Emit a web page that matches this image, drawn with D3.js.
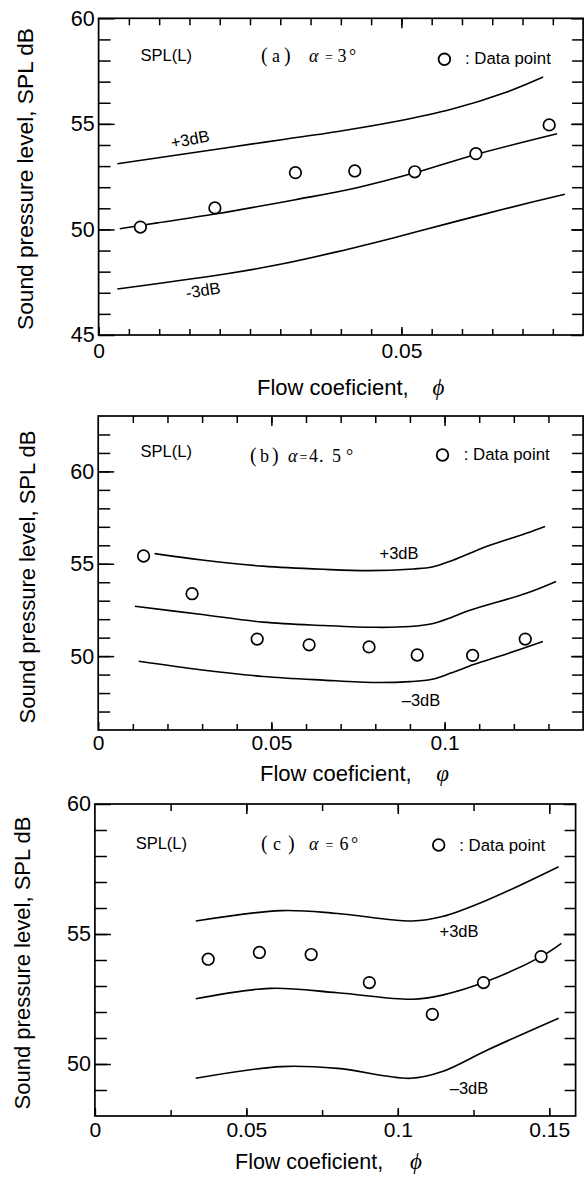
<!DOCTYPE html>
<html><head><meta charset="utf-8">
<script src="https://cdn.jsdelivr.net/npm/d3@7"></script>
<style>body{margin:0;background:#fff} svg{display:block}</style>
</head><body>
<svg id="chart" width="588" height="1178"></svg>
<script>
// ---------- Panel (a) alpha = 3 deg ----------
const aPointPhi = [0.0069, 0.0192, 0.0325, 0.0423, 0.0522, 0.0623, 0.0744];
const aPointSpl = [50.11, 51.02, 52.69, 52.77, 52.73, 53.59, 54.95];
const aMidPhi   = [0.0035, 0.0097, 0.0192, 0.0325, 0.0423, 0.0522, 0.0623, 0.0757];
const aMidSpl   = [50.03, 50.31, 50.73, 51.41, 51.95, 52.68, 53.55, 54.53];
const aUpPhi    = [0.0031, 0.0209, 0.0302, 0.0395, 0.0488, 0.0581, 0.0673, 0.0734];
const aUpSpl    = [53.11, 53.86, 54.25, 54.64, 55.10, 55.68, 56.50, 57.22];
const aLoPhi    = [0.0031, 0.0209, 0.0302, 0.0395, 0.0488, 0.0581, 0.0673, 0.0770];
const aLoSpl    = [47.18, 47.89, 48.36, 48.95, 49.61, 50.31, 50.99, 51.67];
const aXTicks   = [0, 0.05];
const aXLabels  = ["0", "0.05"];
const aYTicks   = [45, 50, 55, 60];

// ---------- Panel (b) alpha = 4.5 deg ----------
const bPointPhi = [0.0131, 0.0271, 0.0459, 0.0609, 0.0782, 0.0921, 0.1081, 0.1233];
const bPointSpl = [55.42, 53.38, 50.92, 50.61, 50.50, 50.06, 50.04, 50.92];
const bMidPhi   = [0.0106, 0.0300, 0.0476, 0.0650, 0.0801, 0.0900, 0.0964, 0.1018, 0.1073, 0.1236, 0.1322];
const bMidSpl   = [52.70, 52.25, 51.84, 51.66, 51.56, 51.60, 51.75, 52.08, 52.48, 53.40, 54.04];
const bUpPhi    = [0.0163, 0.0300, 0.0476, 0.0650, 0.0780, 0.0910, 0.0964, 0.1018, 0.1073, 0.1127, 0.1236, 0.1290];
const bUpSpl    = [55.55, 55.20, 54.87, 54.70, 54.63, 54.72, 54.82, 55.15, 55.57, 55.97, 56.65, 57.02];
const bLoPhi    = [0.0117, 0.0300, 0.0476, 0.0650, 0.0801, 0.0900, 0.0964, 0.1018, 0.1084, 0.1181, 0.1284];
const bLoSpl    = [49.72, 49.25, 48.90, 48.70, 48.57, 48.62, 48.75, 49.08, 49.54, 50.13, 50.79];
const bXTicks   = [0, 0.05, 0.1];
const bXLabels  = ["0", "0.05", "0.1"];
const bYTicks   = [50, 55, 60];

// ---------- Panel (c) alpha = 6 deg ----------
const cPointPhi = [0.0374, 0.0543, 0.0714, 0.0906, 0.1114, 0.1283, 0.1473];
const cPointSpl = [54.03, 54.29, 54.21, 53.13, 51.91, 53.13, 54.13];
const cMidPhi   = [0.0333, 0.0578, 0.0801, 0.1048, 0.1147, 0.1283, 0.1473, 0.1540];
const cMidSpl   = [52.51, 52.91, 52.74, 52.49, 52.65, 53.13, 54.13, 54.64];
const cUpPhi    = [0.0333, 0.0615, 0.0801, 0.1048, 0.1147, 0.1296, 0.1531];
const cUpSpl    = [55.50, 55.90, 55.79, 55.50, 55.67, 56.31, 57.59];
const cLoPhi    = [0.0333, 0.0615, 0.0801, 0.1042, 0.1147, 0.1296, 0.1531];
const cLoSpl    = [49.45, 49.90, 49.83, 49.45, 49.71, 50.54, 51.76];
const cXTicks   = [0, 0.05, 0.1, 0.15];
const cXLabels  = ["0", "0.05", "0.1", "0.15"];
const cYTicks   = [50, 55, 60];

const yAxisTitle = "Sound pressure level, SPL  dB";
const xAxisTitle = "Flow coeficient,";
const legendText = ": Data point";

const SANS = "'Liberation Sans', Arial, Helvetica, sans-serif";
const SERIF = "'Liberation Serif', 'DejaVu Serif', 'Times New Roman', serif";
const svg = d3.select("#chart");
svg.append("rect").attr("width", 588).attr("height", 1178).attr("fill", "#fff");

function zip(a, b) { return a.map((v, i) => [v, b[i]]); }

function styleAxis(sel, fs) {
  sel.select(".domain").remove();
  sel.selectAll(".tick line").attr("stroke", "#000").attr("stroke-width", 1.5);
  sel.selectAll(".tick text").attr("fill", "#000").attr("font-family", SANS).attr("font-size", fs);
  sel.attr("font-family", null).attr("font-size", null);
}

function drawPanel(p) {
  const x = d3.scaleLinear().domain(p.xDomain).range([p.left, p.right]);
  const y = d3.scaleLinear().domain(p.yDomain).range([p.bottom, p.top]);
  const g = svg.append("g");
  const xMinor = d3.range(p.xDomain[0] + p.xStep, p.xDomain[1] - 1e-9, p.xStep);
  const yMinor = d3.range(p.yDomain[0] + 1, p.yDomain[1] - 1e-9, 1);

  // minor ticks on all four sides (inward)
  g.append("g").attr("transform", `translate(0,${p.bottom})`)
    .call(d3.axisBottom(x).tickValues(xMinor).tickSize(-6).tickFormat("")).call(s => styleAxis(s, 0));
  g.append("g").attr("transform", `translate(0,${p.top})`)
    .call(d3.axisTop(x).tickValues(xMinor).tickSize(-7).tickFormat("")).call(s => styleAxis(s, 0));
  g.append("g").attr("transform", `translate(${p.left},0)`)
    .call(d3.axisLeft(y).tickValues(yMinor).tickSize(-12).tickFormat("")).call(s => styleAxis(s, 0));
  g.append("g").attr("transform", `translate(${p.right},0)`)
    .call(d3.axisRight(y).tickValues(yMinor).tickSize(-11).tickFormat("")).call(s => styleAxis(s, 0));

  // major ticks with labels
  g.append("g").attr("transform", `translate(0,${p.bottom})`)
    .call(d3.axisBottom(x).tickValues(p.xTicks).tickSize(-8).tickPadding(p.xPad)
      .tickFormat((d, i) => p.xLabels[i])).call(s => styleAxis(s, 21));
  g.append("g").attr("transform", `translate(0,${p.top})`)
    .call(d3.axisTop(x).tickValues(p.xTicks.slice(1)).tickSize(-10).tickFormat("")).call(s => styleAxis(s, 0));
  g.append("g").attr("transform", `translate(${p.left},0)`)
    .call(d3.axisLeft(y).tickValues(p.yTicks).tickSize(-16).tickPadding(4)).call(s => styleAxis(s, 21.5));
  g.append("g").attr("transform", `translate(${p.right},0)`)
    .call(d3.axisRight(y).tickValues(p.yTicks).tickSize(-12).tickFormat("")).call(s => styleAxis(s, 0));

  // frame
  g.append("rect").attr("x", p.left).attr("y", p.top)
    .attr("width", p.right - p.left).attr("height", p.bottom - p.top)
    .attr("fill", "none").attr("stroke", "#000").attr("stroke-width", 1.7);

  // curves
  const line = d3.line().x(d => x(d[0])).y(d => y(d[1])).curve(d3.curveCatmullRom.alpha(0.5));
  [zip(p.upPhi, p.upSpl), zip(p.midPhi, p.midSpl), zip(p.loPhi, p.loSpl)].forEach(c => {
    g.append("path").attr("d", line(c)).attr("fill", "none").attr("stroke", "#000").attr("stroke-width", 1.6);
  });

  // data points
  g.selectAll("circle.pt").data(zip(p.ptPhi, p.ptSpl)).join("circle")
    .attr("class", "pt").attr("cx", d => x(d[0])).attr("cy", d => y(d[1])).attr("r", 5.8)
    .attr("fill", "#fff").attr("stroke", "#000").attr("stroke-width", 1.7);

  // curve labels
  p.curveLabels.forEach(l => {
    g.append("text").text(l.t).attr("font-family", SANS).attr("font-size", 16.5)
      .attr("text-anchor", "middle").attr("dominant-baseline", "central")
      .attr("transform", `translate(${l.x},${l.y}) rotate(${l.r || 0})`);
  });

  // SPL(L)
  g.append("text").text("SPL(L)").attr("x", p.spl[0]).attr("y", p.spl[1])
    .attr("font-family", SANS).attr("font-size", 16.5);

  // title pieces (serif)
  p.title.forEach(t => {
    g.append("text").text(t.t).attr("x", t.x).attr("y", p.titleY)
      .attr("font-family", SERIF).attr("font-size", t.fs || 18)
      .attr("font-style", t.it ? "italic" : "normal");
  });

  // legend
  g.append("circle").attr("cx", p.leg[0]).attr("cy", p.leg[1]).attr("r", 5.8)
    .attr("fill", "#fff").attr("stroke", "#000").attr("stroke-width", 1.8);
  g.append("text").text(legendText).attr("x", p.leg[2]).attr("y", p.leg[3])
    .attr("font-family", SANS).attr("font-size", 16.8);

  // axis titles
  g.append("text").text(yAxisTitle).attr("font-family", SANS).attr("font-size", 22)
    .attr("text-anchor", "middle").attr("textLength", p.yLab[2]).attr("lengthAdjust", "spacingAndGlyphs")
    .attr("transform", `translate(${p.yLab[0]},${p.yLab[1]}) rotate(-90)`);
  g.append("text").text(xAxisTitle).attr("x", p.xLab[0]).attr("y", p.xLab[1])
    .attr("font-family", SANS).attr("font-size", p.xLab[4] || 22);
  g.append("text").text(p.xLab[3]).attr("x", p.xLab[2]).attr("y", p.xLab[1])
    .attr("font-family", SERIF).attr("font-style", "italic").attr("font-size", 23)
    .attr("text-anchor", "middle");
}

drawPanel({
  left: 98.6, right: 583.1, top: 18.3, bottom: 335,
  xDomain: [0, 0.08], yDomain: [45, 60], xStep: 0.005,
  xTicks: aXTicks, xLabels: aXLabels, yTicks: aYTicks, xPad: 8,
  ptPhi: aPointPhi, ptSpl: aPointSpl, midPhi: aMidPhi, midSpl: aMidSpl,
  upPhi: aUpPhi, upSpl: aUpSpl, loPhi: aLoPhi, loSpl: aLoSpl,
  curveLabels: [{t: "+3dB", x: 190, y: 139, r: -11}, {t: "-3dB", x: 203, y: 290, r: -9}],
  spl: [140.6, 60.5],
  titleY: 61.5,
  title: [{t: "(", x: 261, fs: 20}, {t: "a", x: 272}, {t: ")", x: 284, fs: 20}, {t: "α", x: 309, it: true},
          {t: "=", x: 325, fs: 14}, {t: "3", x: 337.5}, {t: "°", x: 349}],
  leg: [444.4, 59.3, 465, 64],
  yLab: [33, 179, 302], xLab: [257, 395, 438.5, "ϕ"]
});

drawPanel({
  left: 98.2, right: 583.1, top: 416, bottom: 730,
  xDomain: [0, 0.14], yDomain: [46, 63], xStep: 0.01,
  xTicks: bXTicks, xLabels: bXLabels, yTicks: bYTicks, xPad: 5,
  ptPhi: bPointPhi, ptSpl: bPointSpl, midPhi: bMidPhi, midSpl: bMidSpl,
  upPhi: bUpPhi, upSpl: bUpSpl, loPhi: bLoPhi, loSpl: bLoSpl,
  curveLabels: [{t: "+3dB", x: 399, y: 553}, {t: "–3dB", x: 421, y: 700}],
  spl: [140.6, 457],
  titleY: 462,
  title: [{t: "(", x: 250, fs: 20}, {t: "b", x: 260}, {t: ")", x: 272, fs: 20}, {t: "α", x: 288, it: true},
          {t: "=", x: 299.5, fs: 14}, {t: "4", x: 309}, {t: ".", x: 319}, {t: "5", x: 332}, {t: "°", x: 346}],
  leg: [442.5, 455, 463.8, 460],
  yLab: [35, 577, 293], xLab: [260, 781, 442.5, "φ"]
});

drawPanel({
  left: 94.9, right: 575.6, top: 804, bottom: 1116,
  xDomain: [0, 0.1587], yDomain: [48, 60], xStep: 0.025,
  xTicks: cXTicks, xLabels: cXLabels, yTicks: cYTicks, xPad: 6,
  ptPhi: cPointPhi, ptSpl: cPointSpl, midPhi: cMidPhi, midSpl: cMidSpl,
  upPhi: cUpPhi, upSpl: cUpSpl, loPhi: cLoPhi, loSpl: cLoSpl,
  curveLabels: [{t: "+3dB", x: 459, y: 931}, {t: "–3dB", x: 469, y: 1088}],
  spl: [135.7, 849],
  titleY: 850,
  title: [{t: "(", x: 261, fs: 20}, {t: "c", x: 273}, {t: ")", x: 288, fs: 20}, {t: "α", x: 309, it: true},
          {t: "=", x: 325.5, fs: 14}, {t: "6", x: 339.5}, {t: "°", x: 351}],
  leg: [438.7, 845, 459.3, 851],
  yLab: [30, 963, 293], xLab: [235, 1169, 416, "ϕ", 21.5]
});
</script>
</body></html>
